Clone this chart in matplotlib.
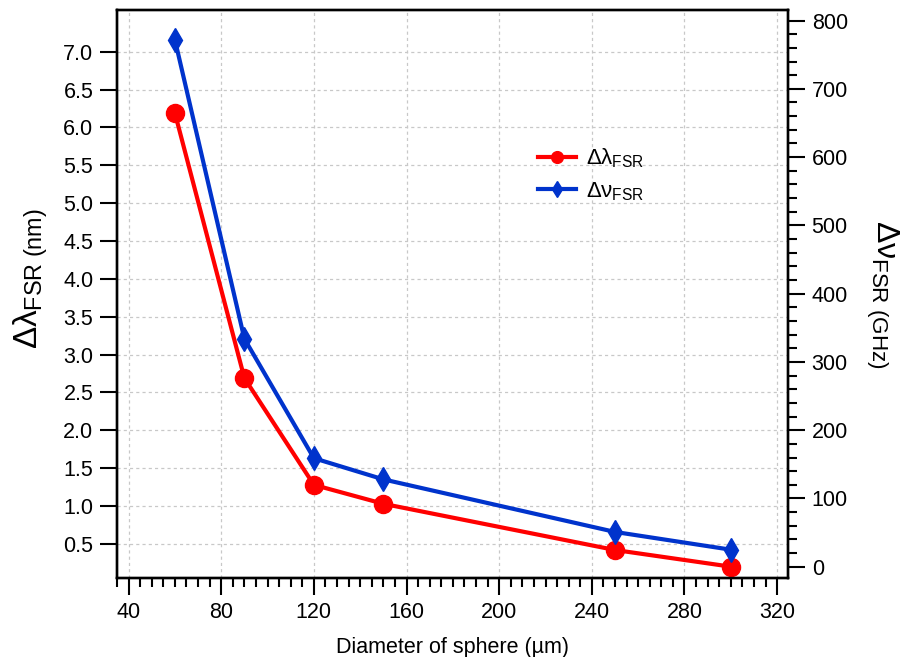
"""Free spectral range vs sphere diameter, dual y axis."""

import matplotlib

matplotlib.use("Agg")
import matplotlib.pyplot as plt
import numpy as np
from matplotlib.ticker import MultipleLocator

plt.rcParams["font.family"] = ["Liberation Sans", "DejaVu Sans"]
plt.rcParams["mathtext.fontset"] = "custom"
plt.rcParams["mathtext.rm"] = "Liberation Sans"
plt.rcParams["mathtext.it"] = "Liberation Sans"
plt.rcParams["mathtext.bf"] = "Liberation Sans:bold"

# Data
diameter_um = [60, 90, 120, 150, 250, 300]
dlambda_nm = [6.19, 2.69, 1.28, 1.03, 0.42, 0.20]
dnu_ghz = [772, 334, 159, 128, 51, 25]

RED = "#ff0000"
BLUE = "#0033cc"

fig = plt.figure(figsize=(9.06, 6.57), dpi=100)
ax = fig.add_axes([0.1291, 0.1202, 0.7407, 0.8646])
ax2 = ax.twinx()

# Red series on the left axis
(l1,) = ax.plot(
    diameter_um, dlambda_nm, color=RED, lw=3, marker="o", ms=13,
    label=r"$\Delta\lambda_{\mathrm{FSR}}$", zorder=3,
)
# Blue series on the right axis
(l2,) = ax2.plot(
    diameter_um, dnu_ghz, color=BLUE, lw=3, marker="d", ms=12,
    label=r"$\Delta\nu_{\mathrm{FSR}}$", zorder=3,
)

ax.set_xlim(35, 324.7)
ax.set_ylim(0.05, 7.55)
ax2.set_ylim(-16.5, 815.5)

ax.xaxis.set_major_locator(MultipleLocator(40))
ax.xaxis.set_minor_locator(MultipleLocator(5))
ax.set_yticks(np.arange(0.5, 7.01, 0.5))
ax.yaxis.set_major_formatter(plt.FormatStrFormatter("%.1f"))
ax2.yaxis.set_major_locator(MultipleLocator(100))
ax2.yaxis.set_minor_locator(MultipleLocator(20))

ax.grid(True, which="major", color="#c8c8c8", lw=0.9, ls=(0, (2.5, 2.5)))
ax.set_axisbelow(True)

for a in (ax, ax2):
    for sp in a.spines.values():
        sp.set_linewidth(1.7)
    a.tick_params(which="major", direction="out", length=12, width=1.5,
                  labelsize=15.5, pad=5)
    a.tick_params(which="minor", direction="out", length=6.5, width=1.5)
ax.tick_params(axis="y", which="minor", left=False)

ax.set_xlabel("Diameter of sphere (µm)", fontsize=15.5, labelpad=10)
ax.set_ylabel(r"$\Delta\lambda_{\mathrm{FSR\ (nm)}}$", fontsize=24)
ax.yaxis.set_label_coords(-0.1, 0.528)
ax2.set_ylabel(r"$\Delta\nu_{\mathrm{FSR\ (GHz)}}$", fontsize=23,
               rotation=270, labelpad=38)

ax2.legend(
    handles=[l1, l2], loc="upper left", bbox_to_anchor=(0.598, 0.795),
    frameon=False, fontsize=16, markerscale=0.65, handlelength=1.7,
    labelspacing=0.45, handletextpad=0.45,
)

fig.savefig("out.png", dpi=100)
